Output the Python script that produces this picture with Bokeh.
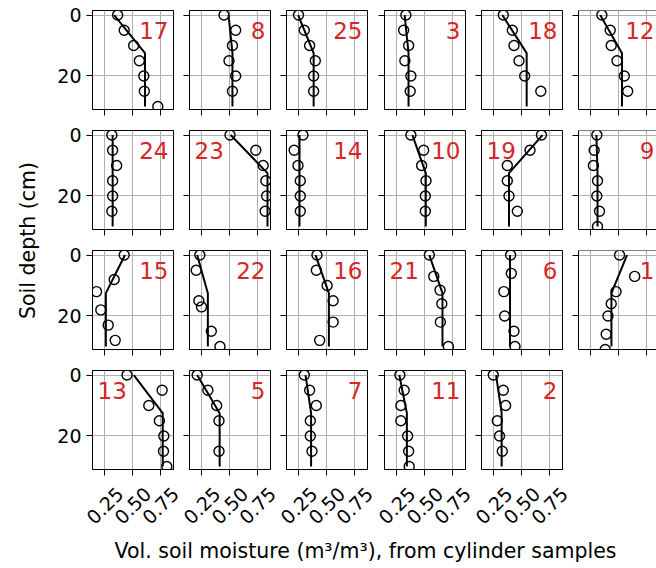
import numpy as np
from bokeh.plotting import figure
from bokeh.layouts import row, column
from bokeh.models import (Range1d, FixedTicker, Label, CustomJSTickFormatter, Span)
from bokeh.core.properties import value
from bokeh.embed import file_html
from bokeh.resources import INLINE

# ---------------- data ----------------
panel_ids = [17, 8, 25, 3, 18, 12,
             24, 23, 14, 10, 19, 9,
             15, 22, 16, 21, 6, 1,
             13, 5, 7, 11, 2]
label_on_left = [23, 19, 21, 13]

sample_depths = [
    [0, 5, 10, 15, 20, 25, 30],      # 17
    [0, 5, 10, 15, 20, 25],          # 8
    [0, 5, 10, 15, 20, 25],          # 25
    [0, 5, 10, 15, 20, 25],          # 3
    [0, 5, 10, 15, 20, 25],          # 18
    [0, 5, 10, 15, 20, 25],          # 12
    [0, 5, 10, 15, 20, 25],          # 24
    [0, 5, 10, 15, 20, 25],          # 23
    [0, 5, 10, 15, 20, 25],          # 14
    [0, 5, 10, 15, 20, 25],          # 10
    [0, 5, 10, 15, 20, 25],          # 19
    [0, 5, 10, 15, 20, 25, 30],      # 9
    [0, 8, 12, 18, 23, 28],          # 15
    [0, 5, 15, 17, 25, 30],          # 22
    [0, 5, 10, 15, 22, 28],          # 16
    [0, 7, 11.5, 16, 22, 30],        # 21
    [0, 6, 12, 20, 25, 30],          # 6
    [0, 7, 12, 16, 20, 26, 31],      # 1
    [0, 5, 10, 15, 20, 25, 30],      # 13
    [0, 5, 10, 15, 25],              # 5
    [0, 5, 10, 15, 20, 25],          # 7
    [0, 5, 10, 15, 20, 25, 30],      # 11
    [0, 5, 10, 15, 20, 25],          # 2
]
sample_moisture = [
    [0.365, 0.424, 0.509, 0.560, 0.600, 0.605, 0.726],  # 17
    [0.449, 0.554, 0.525, 0.494, 0.554, 0.525],         # 8
    [0.247, 0.299, 0.347, 0.398, 0.383, 0.383],         # 25
    [0.331, 0.311, 0.356, 0.322, 0.376, 0.370],         # 3
    [0.335, 0.416, 0.431, 0.476, 0.527, 0.672],         # 18
    [0.349, 0.424, 0.433, 0.485, 0.551, 0.581],         # 12
    [0.313, 0.320, 0.356, 0.320, 0.320, 0.313],         # 24
    [0.503, 0.735, 0.801, 0.825, 0.832, 0.819],         # 23
    [0.287, 0.208, 0.242, 0.263, 0.263, 0.263],         # 14
    [0.376, 0.491, 0.473, 0.512, 0.506, 0.506],         # 10
    [0.678, 0.575, 0.371, 0.371, 0.386, 0.461],         # 19
    [0.304, 0.280, 0.273, 0.310, 0.304, 0.328, 0.310],  # 9
    [0.424, 0.334, 0.175, 0.214, 0.280, 0.343],         # 15
    [0.232, 0.199, 0.223, 0.247, 0.335, 0.413],         # 22
    [0.413, 0.407, 0.504, 0.558, 0.558, 0.437],         # 16
    [0.542, 0.582, 0.638, 0.654, 0.641, 0.713],         # 21
    [0.401, 0.407, 0.340, 0.347, 0.431, 0.440],         # 6
    [0.508, 0.644, 0.476, 0.433, 0.404, 0.388, 0.379],  # 1
    [0.449, 0.765, 0.645, 0.740, 0.780, 0.777, 0.807],  # 13
    [0.208, 0.304, 0.383, 0.404, 0.404],                # 5
    [0.299, 0.347, 0.407, 0.353, 0.353, 0.368],         # 7
    [0.277, 0.316, 0.286, 0.286, 0.347, 0.356, 0.361],  # 11
    [0.245, 0.335, 0.356, 0.281, 0.301, 0.326],         # 2
]
fit_surface = [0.334, 0.490, 0.244, 0.320, 0.326, 0.334,
               0.320, 0.509, 0.256, 0.390, 0.687, 0.300,
               0.431, 0.208, 0.400, 0.542, 0.395, 0.575,
               0.510, 0.208, 0.310, 0.272, 0.270]
fit_deep = [0.611, 0.525, 0.383, 0.355, 0.545, 0.530,
            0.320, 0.840, 0.256, 0.510, 0.386, 0.310,
            0.259, 0.304, 0.520, 0.660, 0.395, 0.435,
            0.770, 0.410, 0.360, 0.340, 0.320]
fit_break_depth = 12.5
fit_bottom_depth = 30

x_ticks = [0.25, 0.50, 0.75]
x_tick_labels = ["0.25", "0.50", "0.75"]
y_ticks = [0, 20]

# ---------------- style / layout ----------------
FONT = "DejaVu Sans"
TICK_FONT_SIZE = "19px"
X_MIN, X_MAX = 0.139, 0.867
Y_TOP, Y_BOTTOM = -1.5, 31
LABEL_DEPTH = 5
NCOL = 6
YLAB_W = 48
col_left = [44, 14, 14, 15, 14, 14]
col_right = [2, 2, 2, 2, 2, 0]
col_frame = [81, 81, 81, 81, 81, 78]
strip_left = [44, 8, 8, 9, 8]
strip_right = [8, 8, 8, 8, 8]
FRAME_H = 99
row_top = [10, 12, 12, 12]
row_bottom = [9, 9, 9, 10]
TICK_LEN = 6
TICKLAB_H = 51          # height of the strip holding the rotated x tick labels
TICKLAB_CENTER = 26     # px from top of that strip to the label centres
XLAB_H = 38
px_per_unit = col_frame[0] / (X_MAX - X_MIN)

empty_fmt = CustomJSTickFormatter(code="return ''")


def x_end_of(c):
    return X_MIN + col_frame[c] / px_per_unit


figs = []
for k, pid in enumerate(panel_ids):
    r, c = divmod(k, NCOL)
    p = figure(width=col_left[c] + col_frame[c] + col_right[c],
               height=row_top[r] + FRAME_H + row_bottom[r],
               x_range=Range1d(X_MIN, x_end_of(c)), y_range=Range1d(Y_BOTTOM, Y_TOP),
               output_backend="svg", toolbar_location=None,
               min_border_left=col_left[c], min_border_right=col_right[c],
               min_border_top=row_top[r], min_border_bottom=row_bottom[r])
    p.background_fill_color = "white"
    p.border_fill_color = "white"

    for ax, ticks in ((p.xaxis, x_ticks), (p.yaxis, y_ticks)):
        ax.ticker = FixedTicker(ticks=ticks)
        ax.major_tick_in = 0
        ax.major_tick_out = TICK_LEN
        ax.major_tick_line_color = "black"
        ax.major_tick_line_width = 1
        ax.minor_tick_line_color = None
        ax.axis_line_color = "black"
        ax.axis_line_width = 1
    p.xaxis.formatter = empty_fmt
    p.xaxis.major_label_text_font_size = "0px"
    p.xaxis.major_label_standoff = 0
    if c == 0:
        p.yaxis.major_label_text_font = FONT
        p.yaxis.major_label_text_font_size = TICK_FONT_SIZE
        p.yaxis.major_label_text_color = "black"
        p.yaxis.major_label_standoff = 5
    else:
        p.yaxis.formatter = empty_fmt
        p.yaxis.major_label_text_font_size = "0px"
        p.yaxis.major_label_standoff = 0

    p.xgrid.ticker = FixedTicker(ticks=x_ticks)
    p.ygrid.ticker = FixedTicker(ticks=y_ticks)
    p.grid.grid_line_color = "#b0b0b0"
    p.grid.grid_line_width = 1

    if c < NCOL - 1:
        p.outline_line_color = "black"
        p.outline_line_width = 1
        p.outline_line_alpha = 1
    else:
        p.outline_line_color = None
        p.add_layout(Span(location=Y_TOP, dimension="width", line_color="black", line_width=1))

    p.line(x=[fit_surface[k], fit_deep[k], fit_deep[k]],
           y=[0, fit_break_depth, fit_bottom_depth],
           line_color="black", line_width=2)
    p.scatter(x=sample_moisture[k], y=sample_depths[k], marker="circle", size=10,
              fill_color=None, line_color="black", line_width=1.4)

    left = pid in label_on_left
    p.add_layout(Label(x=X_MIN if left else X_MAX, y=LABEL_DEPTH,
                       x_offset=5 if left else -5, text=str(pid),
                       text_align="left" if left else "right", text_baseline="middle",
                       text_color="#d62728", text_font=FONT, text_font_size="23px"))
    figs.append(p)

# strip of rotated x tick labels under the bottom row (same x scale as the panels)
n_last = len(panel_ids) - (len(panel_ids) // NCOL) * NCOL or NCOL
tick_figs = []
for c in range(n_last):
    t = figure(width=strip_left[c] + col_frame[c] + strip_right[c], height=TICKLAB_H,
               x_range=Range1d(X_MIN - strip_left[c] / px_per_unit,
                               x_end_of(c) + strip_right[c] / px_per_unit),
               y_range=Range1d(TICKLAB_H, 0),
               output_backend="svg", toolbar_location=None,
               x_axis_type=None, y_axis_type=None, min_border=0)
    t.outline_line_color = None
    t.text(x=x_ticks, y=[TICKLAB_CENTER] * len(x_ticks), text=x_tick_labels,
           angle=np.pi / 4, text_align="center", text_baseline="middle",
           text_font=value(FONT), text_font_size=TICK_FONT_SIZE, text_color="black")
    tick_figs.append(t)

rows = [row(*figs[i:i + NCOL]) for i in range(0, len(figs), NCOL)]
grid = column(*rows, row(*tick_figs))
GRID_H = sum(row_top[i] + FRAME_H + row_bottom[i] for i in range(4)) + TICKLAB_H

ylab = figure(width=YLAB_W, height=GRID_H, output_backend="svg", toolbar_location=None,
              x_axis_type=None, y_axis_type=None, min_border=0)
ylab.outline_line_color = None
ylab.add_layout(Label(x=27, y=GRID_H - 240, x_units="screen", y_units="screen",
                      text="Soil depth (cm)", angle=np.pi / 2, text_align="center",
                      text_baseline="middle", text_color="black", text_font=FONT,
                      text_font_size="20.5px"))

xlab = figure(width=656, height=XLAB_H, output_backend="svg", toolbar_location=None,
              x_axis_type=None, y_axis_type=None, min_border=0)
xlab.outline_line_color = None
xlab.add_layout(Label(x=365, y=18, x_units="screen", y_units="screen",
                      text="Vol. soil moisture (m³/m³), from cylinder samples",
                      text_align="center", text_baseline="middle", text_color="black",
                      text_font=FONT, text_font_size="20.5px"))

layout = column(row(ylab, grid), xlab)
open("out.html", "w").write(file_html(layout, INLINE))
